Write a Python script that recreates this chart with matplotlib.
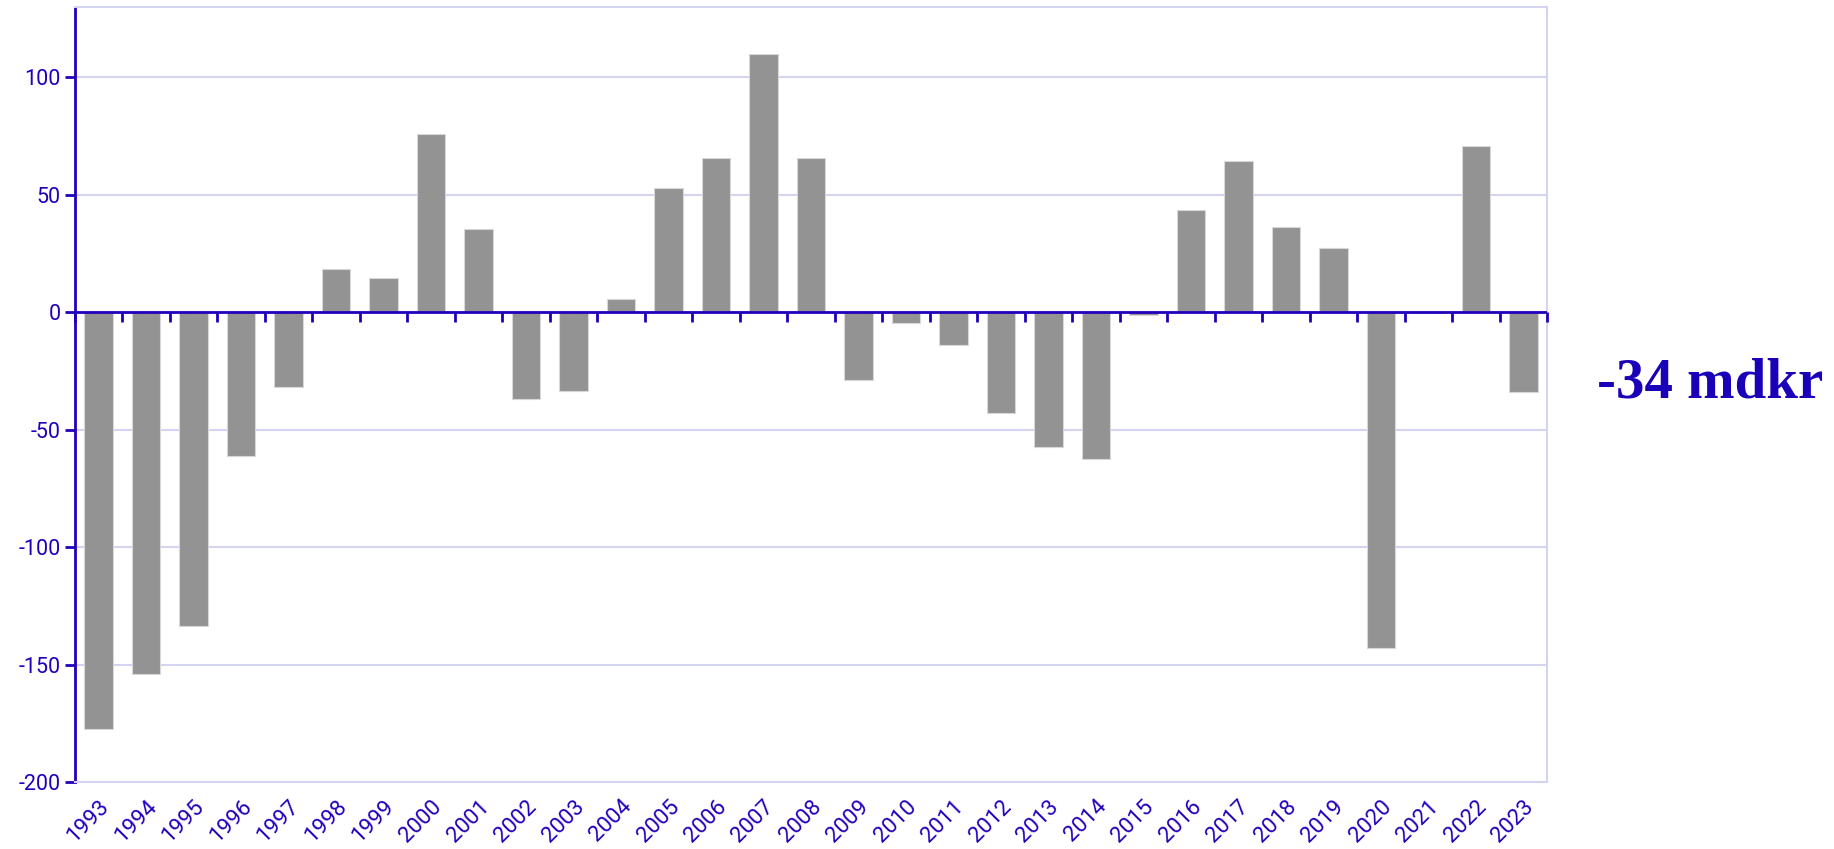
import matplotlib.pyplot as plt
import numpy as np

years = [str(y) for y in range(1993, 2024)]
values = [-177.5, -154, -133.5, -61, -32, 18.5, 14.5, 76, 35.5, -37,
          -33.5, 5.5, 53, 65.5, 110, 65.5, -29, -4.5, -14, -43,
          -57.5, -62.5, -1, 43.5, 64.5, 36.5, 27.5, -143, -0.5, 71, -34]
yticks = [-200, -150, -100, -50, 0, 50, 100]
annotation = "-34 mdkr"

BLUE = "#2200bb"
GRID = "#d4d4f2"
BAR = "#939393"
YMIN, YMAX = -200, 130

plt.rcParams["font.family"] = ["Roboto", "DejaVu Sans"]
plt.rcParams["axes.unicode_minus"] = False

fig = plt.figure(figsize=(18.34, 8.49), dpi=100)
ax = fig.add_axes([75 / 1834, 1 - 782 / 849, (1547 - 75) / 1834, (782 - 7) / 849])

x = np.arange(len(years))
ax.bar(x, values, width=0.6, color=BAR, edgecolor="#d8d8d8", linewidth=0.8, zorder=3)
ax.axhline(0, color=BLUE, lw=2, zorder=4)

ax.set_xlim(-0.5, len(years) - 0.5)
ax.set_ylim(YMIN, YMAX)
ax.set_yticks(yticks)
ax.grid(axis="y", color=GRID, lw=1.5, zorder=0)
ax.set_axisbelow(True)

ax.tick_params(axis="y", colors=BLUE, labelsize=15.5, length=7, width=2, direction="out")
ax.set_xticks(x)
ax.set_xticklabels(years, rotation=45, ha="right", rotation_mode="anchor",
                   color=BLUE, fontsize=16)
ax.tick_params(axis="x", length=0, pad=10)

for side in ("top", "right", "bottom"):
    ax.spines[side].set_color(GRID)
    ax.spines[side].set_linewidth(1.5)
ax.spines["left"].set_color(BLUE)
ax.spines["left"].set_linewidth(2)

# tick marks on the zero line, at category boundaries
zero_frac = (0 - YMIN) / (YMAX - YMIN)
sec = ax.secondary_xaxis(zero_frac)
sec.set_zorder(6)
sec.set_xticks(np.arange(len(years) + 1) - 0.5)
sec.set_xticklabels([])
sec.xaxis.set_ticks_position("bottom")
sec.tick_params(axis="x", colors=BLUE, length=7, width=2, direction="out")
sec.spines["bottom"].set_color(BLUE)
sec.spines["bottom"].set_linewidth(2)
sec.spines["top"].set_visible(False)

fig.text(1597 / 1834, 1 - 398 / 849, annotation, color="#1a00b8", fontsize=41,
         fontweight="bold", family=["Liberation Serif", "DejaVu Serif"],
         ha="left", va="baseline")

fig.savefig("out.png", dpi=100)
